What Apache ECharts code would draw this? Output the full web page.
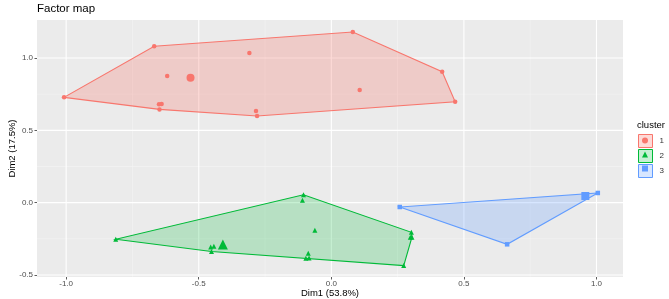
<!DOCTYPE html>
<html>
<head>
<meta charset="utf-8">
<title>Factor map</title>
<script src="https://cdn.jsdelivr.net/npm/echarts@6/dist/echarts.min.js"></script>
<style>
  html, body { margin: 0; padding: 0; background: #fff; }
  #chart { width: 669px; height: 299px; }
</style>
</head>
<body>
<div id="chart"></div>
<script>
// individuals on Dim1 / Dim2, per cluster
const cluster1X = [-1.008, -0.668, -0.309, -0.619, -0.650, -0.640, -0.648, -0.284, -0.280, 0.081, 0.418, 0.467, 0.107]
const cluster1Y = [0.728, 1.081, 1.034, 0.876, 0.680, 0.682, 0.645, 0.634, 0.599, 1.180, 0.905, 0.698, 0.779]

const cluster2X = [-0.813, -0.105, -0.109, -0.062, -0.455, -0.443, -0.452, -0.087, -0.096, -0.084, 0.302, 0.304, 0.298, 0.273]
const cluster2Y = [-0.253, 0.055, 0.017, -0.191, -0.306, -0.301, -0.338, -0.350, -0.385, -0.382, -0.205, -0.239, -0.239, -0.435]

const cluster3X = [0.258, 0.663, 1.005, 0.958]
const cluster3Y = [-0.030, -0.288, 0.067, 0.046]

// cluster centres (bigger marks)
const centerX = [-0.531, -0.409, 0.958]
const centerY = [0.864, -0.290, 0.046]

const clusterNames = ['1', '2', '3']

// axis breaks
const xTicks = [-1.0, -0.5, 0.0, 0.5, 1.0]
const xMinor = [-0.75, -0.25, 0.25, 0.75]
const yTicks = [-0.5, 0.0, 0.5, 1.0]
const yMinor = [-0.25, 0.25, 0.75]

const colors = ['#F8766D', '#00BA38', '#619CFF']
const fills = ['rgba(248,118,109,0.27)', 'rgba(0,186,56,0.22)', 'rgba(97,156,255,0.25)']
const shapes = ['circle', 'triangle', 'rect']

const zip = (xs, ys) => xs.map((x, i) => [x, ys[i]])

function convexHull(points) {
  const p = points.slice().sort((a, b) => a[0] - b[0] || a[1] - b[1])
  const cross = (o, a, b) => (a[0] - o[0]) * (b[1] - o[1]) - (a[1] - o[1]) * (b[0] - o[0])
  const lower = []
  const upper = []
  for (const q of p) {
    while (lower.length >= 2 && cross(lower[lower.length - 2], lower[lower.length - 1], q) <= 0) lower.pop()
    lower.push(q)
  }
  for (const q of p.slice().reverse()) {
    while (upper.length >= 2 && cross(upper[upper.length - 2], upper[upper.length - 1], q) <= 0) upper.pop()
    upper.push(q)
  }
  lower.pop()
  upper.pop()
  return lower.concat(upper)
}

const clusters = [zip(cluster1X, cluster1Y), zip(cluster2X, cluster2Y), zip(cluster3X, cluster3Y)]

// white panel grid lines, drawn under everything
function gridLines(dir, values, width, color) {
  return {
    type: 'custom',
    silent: true,
    z: 1,
    data: values.map(v => (dir === 'x' ? [v, 0] : [0, v])),
    encode: { x: 0, y: 1 },
    renderItem(params, api) {
      const cs = params.coordSys
      const pt = api.coord([api.value(0), api.value(1)])
      const shape = dir === 'x'
        ? { x1: pt[0], y1: cs.y, x2: pt[0], y2: cs.y + cs.height }
        : { x1: cs.x, y1: pt[1], x2: cs.x + cs.width, y2: pt[1] }
      return { type: 'line', shape, style: { stroke: color, lineWidth: width } }
    }
  }
}

function hullSeries(i) {
  const hull = convexHull(clusters[i])
  return {
    name: clusterNames[i],
    type: 'custom',
    silent: true,
    z: 2,
    data: hull,
    encode: { x: 0, y: 1 },
    itemStyle: { color: colors[i] },
    renderItem(params, api) {
      if (params.dataIndex !== 0) return null
      return {
        type: 'polygon',
        shape: { points: hull.map(p => api.coord(p)) },
        style: { fill: fills[i], stroke: colors[i], lineWidth: 1.1 }
      }
    }
  }
}

function pointSeries(i) {
  return {
    name: 'points ' + clusterNames[i],
    type: 'scatter',
    z: 3,
    symbol: shapes[i],
    symbolSize: i === 1 ? 5 : 4.5,
    itemStyle: { color: colors[i], opacity: 1 },
    data: clusters[i]
  }
}

function centerSeries(i) {
  return {
    name: 'centre ' + clusterNames[i],
    type: 'scatter',
    z: 4,
    symbol: shapes[i],
    symbolSize: i === 1 ? 10 : 8,
    itemStyle: { color: colors[i], opacity: 1 },
    data: [[centerX[i], centerY[i]]]
  }
}

const chart = echarts.init(document.getElementById('chart'))

const series = [
  gridLines('x', xMinor, 0.6, '#F5F5F5'),
  gridLines('y', yMinor, 0.6, '#F5F5F5'),
  gridLines('x', xTicks, 1.1, '#FFFFFF'),
  gridLines('y', yTicks, 1.1, '#FFFFFF')
]
for (let i = 0; i < 3; i++) series.push(hullSeries(i))
for (let i = 0; i < 3; i++) series.push(pointSeries(i))
for (let i = 0; i < 3; i++) series.push(centerSeries(i))

const symbolLegends = clusterNames.map((n, i) => ({
  orient: 'vertical',
  left: 642,
  top: 134 + i * 14 + 3.5,
  padding: 0,
  itemWidth: 6,
  itemHeight: 6,
  icon: shapes[i],
  selectedMode: false,
  formatter: () => '',
  textStyle: { fontSize: 1 },
  data: [{ name: 'points ' + n, itemStyle: { color: colors[i] } }]
}))

chart.setOption({
  animation: false,
  backgroundColor: '#FFFFFF',
  textStyle: { fontFamily: 'Liberation Sans, Arial, sans-serif' },
  title: [
    {
      text: 'Factor map',
      left: 37,
      top: 3,
      padding: 0,
      textStyle: { fontSize: 11.5, fontWeight: 'normal', color: '#000' }
    },
    {
      text: 'cluster',
      left: 637,
      top: 120,
      padding: 0,
      textStyle: { fontSize: 9.5, fontWeight: 'normal', color: '#000' }
    }
  ],
  legend: [
    {
      orient: 'vertical',
      left: 638,
      top: 134,
      padding: 0,
      itemWidth: 14,
      itemHeight: 13,
      itemGap: 1,
      icon: 'rect',
      selectedMode: false,
      textStyle: { fontSize: 8, color: '#333', padding: [0, 0, 0, 2] },
      data: clusterNames.map((n, i) => ({
        name: n,
        itemStyle: { color: fills[i], borderColor: colors[i], borderWidth: 1 }
      }))
    }
  ].concat(symbolLegends),
  grid: {
    left: 37,
    right: 46,
    top: 20,
    bottom: 22,
    containLabel: false,
    outerBoundsMode: 'none',
    show: true,
    backgroundColor: '#EBEBEB',
    borderWidth: 0
  },
  xAxis: {
    type: 'value',
    min: -1.11,
    max: 1.10,
    name: 'Dim1 (53.8%)',
    nameLocation: 'middle',
    nameGap: 11,
    nameMoveOverlap: false,
    nameTextStyle: { fontSize: 9.5, color: '#000' },
    axisLine: { show: false, onZero: false },
    splitLine: { show: false },
    axisTick: { show: true, length: 2.5, customValues: xTicks, lineStyle: { color: '#333', width: 0.8 } },
    axisLabel: {
      customValues: xTicks,
      formatter: v => v.toFixed(1),
      color: '#4D4D4D',
      fontSize: 8,
      margin: 3
    }
  },
  yAxis: {
    type: 'value',
    min: -0.514,
    max: 1.263,
    name: 'Dim2 (17.5%)',
    nameLocation: 'middle',
    nameGap: 20,
    nameMoveOverlap: false,
    nameTextStyle: { fontSize: 9.5, color: '#000' },
    axisLine: { show: false, onZero: false },
    splitLine: { show: false },
    axisTick: { show: true, length: 2.5, customValues: yTicks, lineStyle: { color: '#333', width: 0.8 } },
    axisLabel: {
      customValues: yTicks,
      formatter: v => v.toFixed(1),
      color: '#4D4D4D',
      fontSize: 8,
      margin: 4
    }
  },
  series
})
</script>
</body>
</html>
